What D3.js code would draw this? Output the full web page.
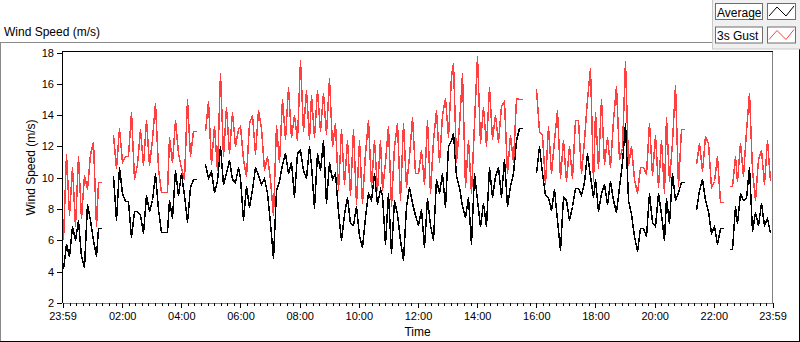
<!DOCTYPE html>
<html>
<head>
<meta charset="utf-8">
<script src="https://cdn.jsdelivr.net/npm/d3@7"></script>
<style>
    body { margin: 0; background: #fff; }
    svg { display: block; font-family: "Liberation Sans", Arial, sans-serif; }
    .tick line { stroke: #000; shape-rendering: crispEdges; }
    .tick text { fill: #000; font-size: 11px; }
    .domain { display: none; }
</style>
</head>
<body>
<div id="chart"></div>
<script>
const CHART_TITLE = 'Wind Speed (m/s)';
const Y_TITLE = 'Wind Speed (m/s)';
const X_TITLE = 'Time';
const SERIES_NAMES = ['Average', '3s Gust'];
const SERIES_COLORS = ['#000000', '#ff4040'];

const Y_TICKS = [2, 4, 6, 8, 10, 12, 14, 16, 18];
const X_TICK_LABELS = ['23:59', '02:00', '04:00', '06:00', '08:00', '10:00', '12:00',
    '14:00', '16:00', '18:00', '20:00', '22:00', '23:59'];

// logger samples every 6 minutes, broken into runs where data was recorded
const SAMPLE_MINUTES = 6;
const SEGMENT_STARTS = ['00:00', '01:42', '04:48', '16:00', '21:24', '22:30'];

const average1 = [4.2, 5.8, 5.0, 6.9, 6.0, 7.3, 5.0, 4.3, 8.3, 7.3, 6.0, 5.0, 6.8, 6.8];
const gust1 = [6.0, 11.5, 7.6, 10.7, 6.9, 11.4, 7.4, 10.2, 9.3, 11.5, 12.3, 6.9, 9.7, 9.7];

const average2 = [10.1, 7.3, 10.7, 9.0, 8.5, 8.5, 6.2, 7.85, 7.85, 7.6, 6.45, 8.9, 7.9, 8.6, 10.3,
    8.0, 6.55, 6.55, 6.55, 8.6, 7.4, 10.5, 8.9, 10.3, 8.9, 7.2, 9.4, 9.9, 9.9];
const gust2 = [12.7, 10.6, 13.2, 11.0, 11.4, 11.4, 14.2, 9.9, 10.9, 13.1, 10.8, 13.7, 10.8, 12.5, 14.8,
    10.6, 9.1, 9.1, 9.1, 12.6, 11.0, 13.7, 11.6, 10.6, 9.9, 15.0, 11.4, 13.0, 13.0];

const average3 = [10.9, 10.0, 10.4, 9.1, 9.8, 12.0, 9.6, 10.3, 11.15, 9.9, 9.7, 10.7, 10.0, 7.3, 9.5,
    8.15, 9.3, 10.7, 10.2,
    9.6, 10.0, 9.0, 7.1, 4.85, 9.2, 9.8, 10.9, 11.6, 10.3, 11.0, 8.8, 11.6, 11.8, 10.5, 10.0, 12.0,
    10.8, 8.05, 11.6, 10.5, 12.4, 8.4, 11.0, 9.9, 10.3, 7.9, 6.0, 7.7, 8.8, 7.1, 7.0, 8.2, 6.3, 5.6,
    7.5, 9.0, 8.6, 10.3, 8.3, 9.3, 8.9, 5.8, 9.0, 5.2, 8.6, 7.7, 6.0, 4.75, 8.2, 9.4, 8.4, 7.6, 7.0,
    8.0, 5.6, 8.7, 7.0, 6.0, 9.9, 9.0, 10.3, 8.1, 12.0, 12.4, 12.85, 10.1, 9.4,
    8.2, 7.5, 8.8, 5.8, 10.3, 8.6, 6.9, 8.4, 6.9, 10.7, 8.8, 10.1, 10.7, 8.8, 11.2, 8.2, 9.5, 10.3,
    12.4, 13.2, 13.2];
const gust3 = [13.0, 14.9, 10.9, 13.3, 10.5, 16.7, 11.4, 14.5, 11.6, 14.2, 12.0, 13.1, 13.3, 11.2, 10.1,
    13.5, 14.0, 11.5, 14.35,
    13.2, 10.5, 11.4, 9.9, 7.6, 13.4, 11.0, 15.0, 12.5, 15.8, 12.6, 14.0, 12.4, 17.55, 13.0, 15.6,
    12.5, 15.3, 12.6, 15.6, 13.0, 15.4, 12.8, 16.4, 12.0, 13.5, 9.2, 13.1, 9.6, 12.4, 8.9, 13.1, 8.3,
    12.4, 8.4, 11.6, 13.7, 9.4, 12.4, 9.2, 12.4, 9.2, 11.0, 13.3, 8.2, 12.0, 13.5, 8.6, 13.5, 9.4,
    11.4, 13.9, 10.3, 10.3, 11.8, 9.6, 13.7, 9.0, 12.4, 14.35, 11.0, 14.0, 15.1, 12.6, 16.5, 17.35,
    11.0, 13.4,
    16.7, 9.4, 12.4, 9.0, 13.5, 17.8, 12.2, 14.5, 12.0, 15.8, 12.5, 14.0, 12.3, 14.6, 14.9, 10.3,
    12.7, 11.0, 15.1, 15.0, 15.0];

const average4 = [10.3, 12.0, 10.3, 8.9, 8.8, 7.95, 9.3, 7.3, 5.4, 8.8, 8.6, 7.3, 8.2, 9.35, 9.35,
    8.9, 9.7, 11.6, 10.1, 8.8, 9.9, 7.9, 9.0, 9.6, 8.3, 9.8, 8.6, 7.8, 9.4, 11.0, 13.5, 8.6, 7.7,
    6.25, 5.3, 6.8, 6.8, 6.25, 9.0, 7.2, 6.9, 9.0, 7.7, 6.0, 8.7, 7.1, 10.3, 8.6, 9.1, 9.7, 9.7];
const gust4 = [15.7, 13.0, 12.7, 9.6, 13.3, 10.3, 12.4, 14.35, 10.0, 12.4, 9.8, 12.0, 10.0, 13.7, 13.7,
    10.3, 12.4, 15.0, 17.0, 9.8, 14.2, 10.6, 15.0, 10.9, 12.6, 10.7, 13.7, 15.85, 11.2, 11.9, 17.45,
    10.8, 12.0, 9.9, 9.0, 10.7, 10.7, 10.25, 13.5, 10.2, 12.7, 9.4, 12.4, 9.0, 13.9, 9.8, 12.3,
    15.95, 9.45, 13.1, 13.1];

const average5 = [7.95, 9.2, 9.9, 8.6, 7.9, 6.45, 6.9, 5.8, 6.8, 6.8];
const gust5 = [10.9, 12.2, 10.4, 12.65, 12.2, 9.4, 9.8, 11.4, 8.45, 8.45];

const average6 = [5.45, 5.45, 8.2, 7.1, 9.0, 8.6, 8.7, 10.7, 6.6, 7.8, 7.0, 8.4, 7.0, 7.4, 6.45];
const gust6 = [9.45, 9.45, 11.4, 9.8, 12.2, 10.1, 13.0, 15.4, 10.5, 8.6, 11.2, 11.8, 9.6, 12.4, 9.8];

const AVERAGE_RUNS = [average1, average2, average3, average4, average5, average6];
const GUST_RUNS = [gust1, gust2, gust3, gust4, gust5, gust6];

const WIDTH = 800;
const HEIGHT = 342;
const PLOT = { left: 62.5, right: 772.5, top: 51.5, bottom: 303 };

const START = new Date(2000, 0, 1, 23, 59);
const END = new Date(2000, 0, 2, 23, 59);

function dayTime(hhmm) {
    const [h, m] = hhmm.split(':').map(Number);
    return new Date(2000, 0, 2, h, m);
}

function buildRuns(runs) {
    return runs.map((values, k) => {
        const t0 = dayTime(SEGMENT_STARTS[k]);
        return values.map((v, i) => ({ t: d3.timeMinute.offset(t0, i * SAMPLE_MINUTES), v: v }));
    });
}

const svg = d3.select('#chart').append('svg')
    .attr('width', WIDTH)
    .attr('height', HEIGHT);

const x = d3.scaleTime().domain([START, END]).range([PLOT.left, PLOT.right]);
const y = d3.scaleLinear().domain([2, 18]).range([PLOT.bottom, 52.5]);

// outer frame
svg.append('path')
    .attr('d', `M0.5,${HEIGHT} V42.5 H712`)
    .attr('fill', 'none').attr('stroke', '#8a8a8a').attr('shape-rendering', 'crispEdges');
svg.append('path')
    .attr('d', `M0,341.5 H799.5 V49`)
    .attr('fill', 'none').attr('stroke', '#000').attr('shape-rendering', 'crispEdges');

svg.append('text')
    .attr('x', 4).attr('y', 36)
    .attr('font-size', 12)
    .text(CHART_TITLE);

// plot area
svg.append('rect')
    .attr('x', PLOT.left).attr('y', PLOT.top)
    .attr('width', PLOT.right - PLOT.left).attr('height', PLOT.bottom - PLOT.top)
    .attr('fill', '#fff');

svg.append('clipPath').attr('id', 'plot-clip')
    .append('rect')
    .attr('x', PLOT.left).attr('y', PLOT.top)
    .attr('width', PLOT.right - PLOT.left).attr('height', PLOT.bottom - PLOT.top);

const line = d3.line()
    .x(d => Math.round(x(d.t)) + 0.5)
    .y(d => Math.round(y(d.v)) + 0.5);

const seriesRuns = [buildRuns(AVERAGE_RUNS), buildRuns(GUST_RUNS)];

const plots = svg.append('g').attr('clip-path', 'url(#plot-clip)');
seriesRuns.forEach((runs, s) => {
    plots.append('g')
        .selectAll('path')
        .data(runs)
        .enter()
        .append('path')
        .attr('d', line)
        .attr('fill', 'none')
        .attr('stroke', SERIES_COLORS[s])
        .attr('stroke-width', 1.5)
        .attr('stroke-linejoin', 'miter')
        .attr('shape-rendering', 'crispEdges');
});

// plot borders: dark top/left, grey right/bottom
svg.append('path')
    .attr('d', `M${PLOT.left},${PLOT.bottom} V${PLOT.top} H${PLOT.right}`)
    .attr('fill', 'none').attr('stroke', '#000').attr('shape-rendering', 'crispEdges');
svg.append('path')
    .attr('d', `M${PLOT.left},${PLOT.bottom} H${PLOT.right} V${PLOT.top}`)
    .attr('fill', 'none').attr('stroke', '#808080').attr('shape-rendering', 'crispEdges');

// y axis
svg.append('g')
    .attr('transform', `translate(${PLOT.left - 0.5},0)`)
    .call(d3.axisLeft(y).tickValues(Y_TICKS).tickSize(5).tickPadding(3).tickSizeOuter(0));

svg.append('text')
    .attr('transform', 'translate(34.5,167.5) rotate(-90)')
    .attr('text-anchor', 'middle')
    .attr('font-size', 12)
    .text(Y_TITLE);

// x axis: labelled ticks plus 8 minor ticks in each 2h step
const majorDates = X_TICK_LABELS.map((s, i) =>
    i === 0 ? START : (i === X_TICK_LABELS.length - 1 ? END : dayTime(s)));

const minorDates = [];
for (let h = 0; h < 24; h += 2) {
    for (let k = 0; k < 9; k++) {
        const d = d3.timeSecond.offset(dayTime('00:00'), (h * 60 + k * 120 / 9) * 60);
        if (d > START && d < END) minorDates.push(d);
    }
}

svg.append('g')
    .attr('transform', `translate(0,${PLOT.bottom})`)
    .call(d3.axisBottom(x).tickValues(minorDates).tickSize(3).tickFormat('').tickSizeOuter(0));

svg.append('g')
    .attr('transform', `translate(0,${PLOT.bottom})`)
    .call(d3.axisBottom(x).tickValues(majorDates).tickSize(5).tickPadding(4)
        .tickFormat((d, i) => X_TICK_LABELS[i]).tickSizeOuter(0));

svg.append('text')
    .attr('x', (PLOT.left + PLOT.right) / 2).attr('y', 335.5)
    .attr('text-anchor', 'middle')
    .attr('font-size', 12)
    .text(X_TITLE);

// legend
const legend = svg.append('g');
legend.append('rect')
    .attr('x', 712.5).attr('y', -1).attr('width', 90).attr('height', 50)
    .attr('fill', '#f0f0f0').attr('stroke', '#c8c8c8');

const items = legend.selectAll('g.item')
    .data(SERIES_NAMES)
    .enter()
    .append('g')
    .attr('class', 'item')
    .attr('transform', (d, i) => `translate(0,${i * 23.5})`);

items.append('rect')
    .attr('x', 715.5).attr('y', 3.5).attr('width', 47).attr('height', 16)
    .attr('fill', '#fff').attr('stroke', '#6e6e6e');
items.append('text')
    .attr('x', 717).attr('y', 16.5)
    .attr('font-size', 12)
    .text(d => d);
items.append('rect')
    .attr('x', 767.5).attr('y', 3.5).attr('width', 28).attr('height', 16)
    .attr('fill', '#fff').attr('stroke', '#6e6e6e');
items.append('path')
    .attr('d', 'M769,16 L777,7 L786,16 L794,6')
    .attr('fill', 'none')
    .attr('stroke', (d, i) => SERIES_COLORS[i]);
</script>
</body>
</html>
